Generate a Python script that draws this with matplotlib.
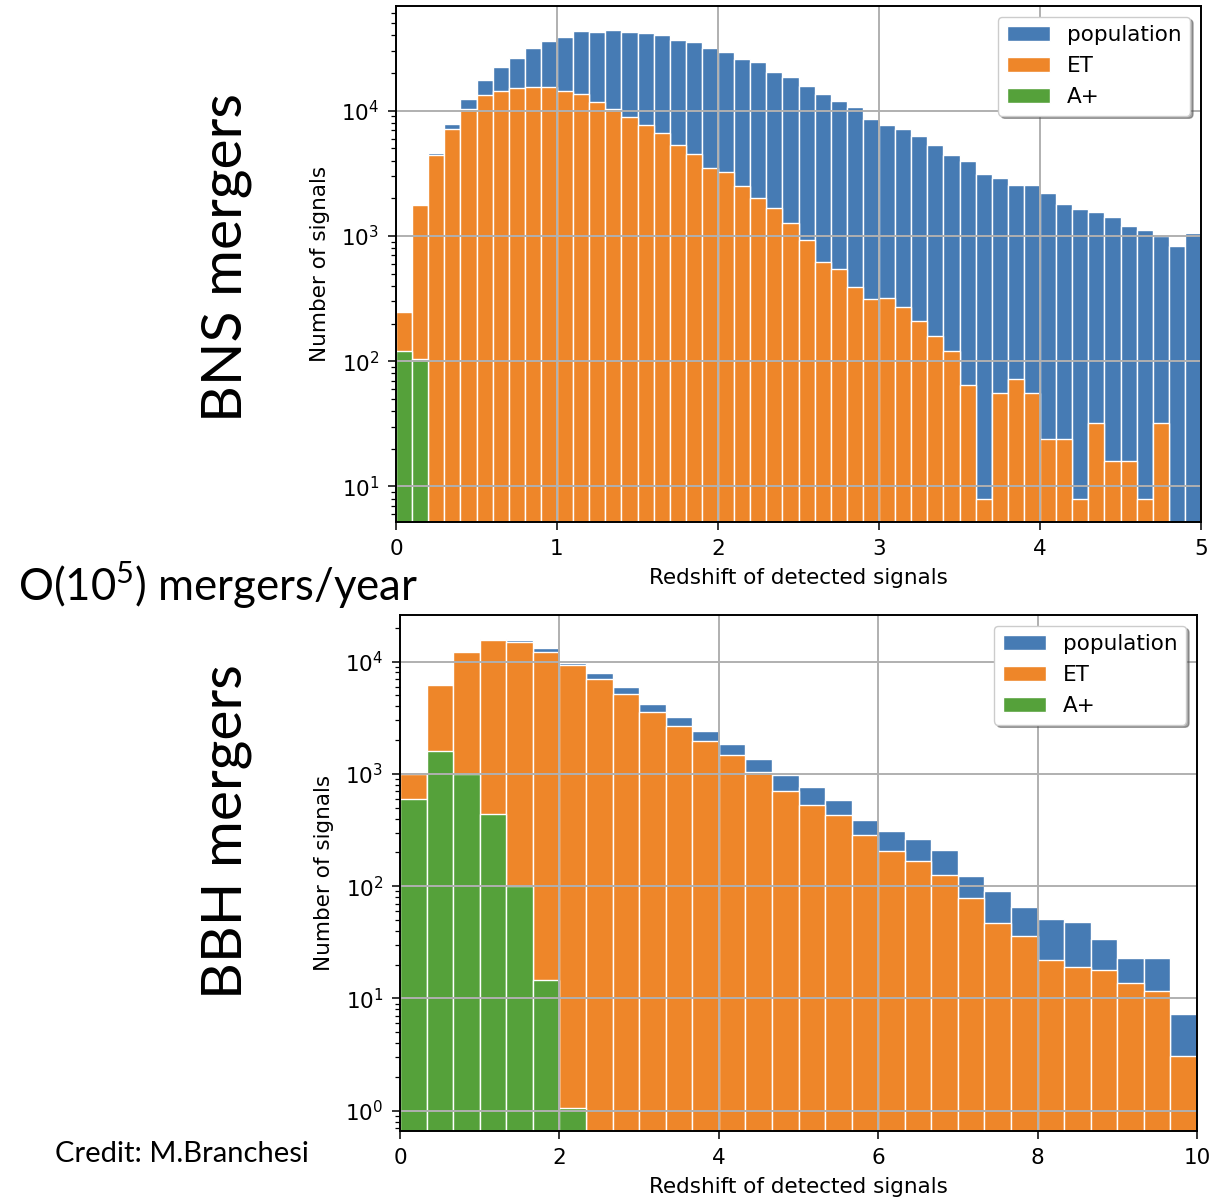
import numpy as np
import matplotlib.pyplot as plt

# BNS: counts per redshift bin of width 0.1 from z=0 to z=5
bns_population = [248, 1780, 4590, 7850, 12400, 17600, 22200, 26600, 31800, 36100,
                  39000, 43500, 42400, 44300, 42400, 41600, 40000, 36600, 35500, 31800,
                  29200, 26000, 24300, 20500, 18500, 15800, 13700, 11900, 10700, 8530,
                  7710, 7100, 6300, 5350, 4420, 3970, 3100, 2920, 2530, 2530,
                  2210, 1810, 1640, 1550, 1410, 1210, 1120, 1000, 830, 1050]
bns_et = [248, 1752, 4392, 7144, 10304, 13304, 14504, 15200, 15600, 15600,
          14400, 13600, 11800, 10400, 8872, 7712, 6624, 5312, 4480, 3488,
          3224, 2520, 1992, 1672, 1280, 928, 616, 544, 392, 312,
          320, 272, 208, 160, 120, 64, 8, 56, 72, 56,
          24, 24, 8, 32, 16, 16, 8, 32, 0, 0]
bns_aplus = [120, 104, 0, 0, 0, 0, 0, 0, 0, 0,
             0, 0, 0, 0, 0, 0, 0, 0, 0, 0,
             0, 0, 0, 0, 0, 0, 0, 0, 0, 0,
             0, 0, 0, 0, 0, 0, 0, 0, 0, 0,
             0, 0, 0, 0, 0, 0, 0, 0, 0, 0]

# BBH: counts per redshift bin of width 1/3 from z=0 to z=10
bbh_population = [1030, 6330, 12400, 15900, 15500, 13100, 9800, 7850, 5910, 4200,
                  3190, 2430, 1850, 1360, 973, 769, 590, 392, 307, 264,
                  211, 123, 90, 65, 51, 48, 34, 23, 23, 7.3]
bbh_et = [1000, 6250, 12200, 15500, 15000, 12300, 9330, 6960, 5110, 3560,
          2660, 1970, 1460, 1030, 706, 528, 432, 283, 204, 167,
          125, 79, 47, 36, 22, 19, 18, 13.7, 11.6, 3.1]
bbh_aplus = [594, 1590, 1000, 438, 100, 14.7, 1.06, 0, 0, 0,
             0, 0, 0, 0, 0, 0, 0, 0, 0, 0,
             0, 0, 0, 0, 0, 0, 0, 0, 0, 0]

c_pop = '#467BB4'
c_et = '#EE8629'
c_ap = '#55A13A'
fs = 15.5

plt.rcParams['font.family'] = 'DejaVu Sans'


def panel(ax, zmax, nbins, pop, et, ap, ylim, xticks):
    edges = np.linspace(0, zmax, nbins + 1)
    mids = 0.5 * (edges[1:] + edges[:-1])
    for w, c, lab in [(pop, c_pop, 'population'), (et, c_et, 'ET'), (ap, c_ap, 'A+')]:
        ax.hist(mids, bins=edges, weights=w, color=c, edgecolor='white',
                linewidth=1.0, label=lab, log=True)
    ax.set_xlim(0, zmax)
    ax.set_ylim(*ylim)
    ax.set_xticks(xticks)
    ax.grid(True, which='major', color='#b0b0b0', linewidth=1.4)
    ax.tick_params(which='major', direction='out', length=6, width=1.1,
                   labelsize=fs, pad=6)
    ax.tick_params(which='minor', direction='out', length=3.5, width=0.9)
    for s in ax.spines.values():
        s.set_linewidth(1.4)
    ax.set_xlabel('Redshift of detected signals', fontsize=fs, labelpad=7)
    ax.set_ylabel('Number of signals', fontsize=fs, labelpad=8)
    ax.legend(loc='upper right', shadow=True, fancybox=True, framealpha=1,
              fontsize=fs)


fig = plt.figure(figsize=(12.18, 11.98), dpi=100)
ax1 = fig.add_axes([396 / 1218, 1 - 522 / 1198, 805 / 1218, 516 / 1198])
ax2 = fig.add_axes([400 / 1218, 1 - 1131 / 1198, 797 / 1218, 516 / 1198])

panel(ax1, 5, 50, bns_population, bns_et, bns_aplus, (5.2, 68600), [0, 1, 2, 3, 4, 5])
panel(ax2, 10, 30, bbh_population, bbh_et, bbh_aplus, (0.66, 26000), [0, 2, 4, 6, 8, 10])

# slide annotations
fig.text(226 / 1218, 1 - 258 / 1198, 'BNS mergers', rotation=90, family='Lato',
         fontsize=41, ha='center', va='center')
fig.text(226 / 1218, 1 - 832 / 1198, 'BBH mergers', rotation=90, family='Lato',
         fontsize=41, ha='center', va='center')
fig.text(18 / 1218, 1 - 585 / 1198, r'O(10$^{\mathregular{5}}$) mergers/year',
         family='Lato', fontsize=31.5, ha='left', va='center')
fig.text(55 / 1218, 1 - 1154 / 1198, 'Credit: M.Branchesi', family='Lato',
         fontsize=21, ha='left', va='center')

fig.savefig('out.png', dpi=100)
